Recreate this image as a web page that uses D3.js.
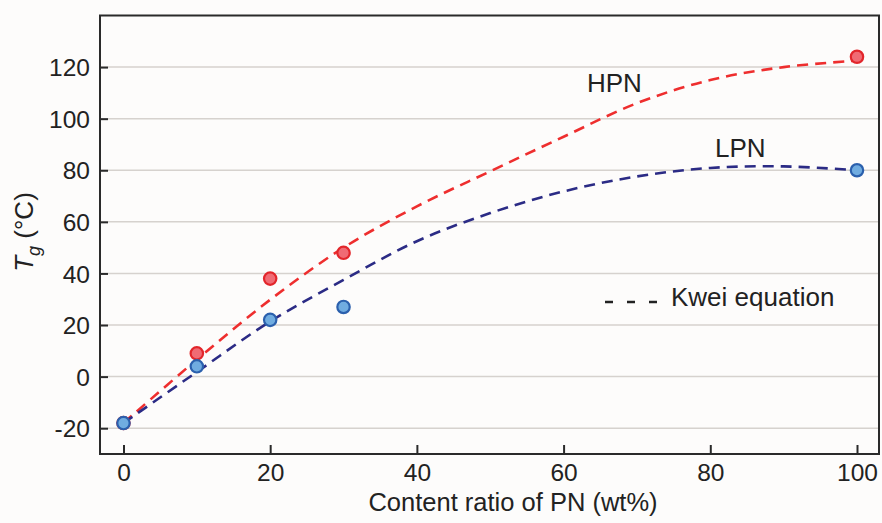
<!DOCTYPE html>
<html><head><meta charset="utf-8">
<script src="https://cdn.jsdelivr.net/npm/d3@7"></script>
<style>
html,body{margin:0;padding:0;background:#fdfcfb;}
svg{display:block;font-family:"Liberation Sans",Arial,sans-serif;}
</style></head>
<body><svg id="c" width="882" height="523"></svg>
<script>
// Measured data points
const contentX = [0, 10, 20, 30, 100];
const hpnTg = [-18, 9, 38, 48, 124];
const lpnTg = [-18, 4, 22, 27, 80];
// Kwei equation fitted curves
const curveX = [0, 10, 20, 30, 40, 50, 60, 70, 80, 90, 100];
const hpnCurve = [-18, 6.6, 29.8, 50, 66, 79.6, 93, 106, 115, 120, 122.5];
const lpnCurve = [-18, 1.8, 21.4, 37.5, 52.5, 63.4, 71.8, 77.6, 80.9, 81.5, 80];
const yTicks = [-20, 0, 20, 40, 60, 80, 100, 120];
const xTicks = [0, 20, 40, 60, 80, 100];

const svg = d3.select("#c");
const L = 100, R = 879, T = 15.5, B = 454;
const x = d3.scaleLinear().domain([-3.2, 103]).range([L, R]);
const y = d3.scaleLinear().domain([-30, 140]).range([B, T]);

// grid
svg.append("g").selectAll("line").data(yTicks).join("line")
  .attr("x1", L).attr("x2", R).attr("y1", d => y(d)).attr("y2", d => y(d))
  .attr("stroke", "#d6d2ce").attr("stroke-width", 1.5);

// axes
const fmt = d => String(d);
const yAxis = d3.axisLeft(y).tickValues(yTicks).tickSize(-8).tickPadding(10).tickFormat(fmt);
const xAxis = d3.axisBottom(x).tickValues(xTicks).tickSize(-9).tickFormat(fmt);
const gy = svg.append("g").attr("transform", `translate(${L},0)`).call(yAxis);
const gx = svg.append("g").attr("transform", `translate(0,${B})`).call(xAxis);
[gy, gx].forEach(g => {
  g.select(".domain").remove();
  g.selectAll(".tick line").attr("stroke", "#2a2a2a").attr("stroke-width", 2);
  g.selectAll(".tick text").attr("fill", "#222").attr("font-size", 24.5);
});
gy.selectAll(".tick text").attr("dy", "0.35em");
gx.selectAll(".tick text").attr("y", 27).attr("dy", null);
// frame
svg.append("rect").attr("x", L).attr("y", T).attr("width", R - L).attr("height", B - T)
  .attr("fill", "none").attr("stroke", "#2a2a2a").attr("stroke-width", 2);

// curves
const line = d3.line().x(d => x(d[0])).y(d => y(d[1])).curve(d3.curveCatmullRom);
svg.append("path").datum(curveX.map((v, i) => [v, hpnCurve[i]]))
  .attr("d", line).attr("fill", "none").attr("stroke", "#ee2e2e")
  .attr("stroke-width", 2.6).attr("stroke-dasharray", "11,7");
svg.append("path").datum(curveX.map((v, i) => [v, lpnCurve[i]]))
  .attr("d", line).attr("fill", "none").attr("stroke", "#2b2b85")
  .attr("stroke-width", 2.6).attr("stroke-dasharray", "11,7");

// points
svg.append("g").selectAll("circle").data(contentX.map((v, i) => [v, hpnTg[i]])).join("circle")
  .attr("cx", d => x(d[0])).attr("cy", d => y(d[1])).attr("r", 6.2)
  .attr("fill", "#f06b74").attr("stroke", "#e2262b").attr("stroke-width", 2.2);
svg.append("g").selectAll("circle").data(contentX.map((v, i) => [v, lpnTg[i]])).join("circle")
  .attr("cx", d => x(d[0])).attr("cy", d => y(d[1])).attr("r", 6.2)
  .attr("fill", "#70ace0").attr("stroke", "#2b60ad").attr("stroke-width", 2.2);

// labels
svg.append("text").attr("x", 587).attr("y", 92).attr("font-size", 26).attr("fill", "#222").text("HPN");
svg.append("text").attr("x", 715).attr("y", 157).attr("font-size", 26).attr("fill", "#222").text("LPN");

// legend
svg.append("line").attr("x1", 605).attr("x2", 658).attr("y1", 302).attr("y2", 302)
  .attr("stroke", "#222").attr("stroke-width", 2.4).attr("stroke-dasharray", "8,14");
svg.append("text").attr("x", 671).attr("y", 306).attr("font-size", 26).attr("fill", "#222").text("Kwei equation");

// axis titles
svg.append("text").attr("x", 513).attr("y", 511).attr("text-anchor", "middle")
  .attr("font-size", 25.5).attr("fill", "#222").text("Content ratio of PN (wt%)");
const yt = svg.append("text").attr("transform", "translate(33,232) rotate(-90)")
  .attr("text-anchor", "middle").attr("font-size", 26).attr("fill", "#222");
yt.append("tspan").attr("font-style", "italic").text("T");
yt.append("tspan").attr("font-style", "italic").attr("font-size", 18).attr("dy", 7).text("g");
yt.append("tspan").attr("dy", -7).text(" (°C)");
</script></body></html>
